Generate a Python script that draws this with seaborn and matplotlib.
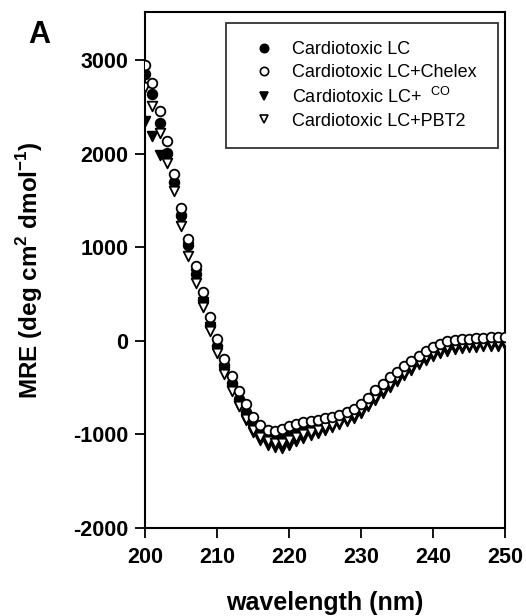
import numpy as np
import pandas as pd
import matplotlib
matplotlib.use('Agg')
import matplotlib.pyplot as plt
import seaborn as sns

sns.set_style('ticks')
plt.rcParams['font.family'] = ['Liberation Sans', 'DejaVu Sans']
plt.rcParams['axes.unicode_minus'] = False
plt.rcParams['mathtext.fontset'] = 'custom'
plt.rcParams['mathtext.rm'] = 'Liberation Sans'
plt.rcParams['mathtext.bf'] = 'Liberation Sans:bold'
plt.rcParams['text.color'] = 'black'
plt.rcParams['axes.labelcolor'] = 'black'
plt.rcParams['xtick.color'] = 'black'
plt.rcParams['ytick.color'] = 'black'
plt.rcParams['axes.edgecolor'] = 'black'

# ── データ（図から読み取り, 1 nm 刻み） ─────────────────────────
wavelength = list(range(200, 251))

lc = [2850, 2640, 2330, 2005, 1700, 1350, 1020, 720, 440, 170,
      -60, -260, -450, -620, -760, -880, -960, -1000, -1010, -990,
      -960, -940, -920, -905, -890, -870, -850, -830, -800, -760,
      -700, -630, -560, -490, -420, -360, -300, -240, -185, -135,
      -90, -55, -30, -15, -5, 0, 5, 10, 15, 15, 20]

chelex = [2950, 2760, 2460, 2135, 1780, 1425, 1090, 800, 520, 260,
          20, -190, -380, -540, -680, -810, -900, -950, -960, -940,
          -910, -890, -865, -855, -845, -830, -810, -790, -765, -730,
          -680, -610, -530, -460, -390, -330, -270, -210, -160, -110,
          -70, -30, -5, 10, 20, 25, 30, 35, 40, 40, 45]

cu = [2350, 2190, 1990, 1940, 1650, 1280, 1000, 710, 420, 150,
      -100, -330, -530, -700, -850, -970, -1060, -1110, -1140, -1150,
      -1110, -1070, -1040, -1010, -980, -950, -920, -890, -860, -820,
      -770, -700, -630, -560, -490, -430, -370, -310, -250, -200,
      -160, -130, -105, -90, -80, -70, -65, -60, -55, -50, -45]

pbt2 = [2710, 2510, 2225, 1905, 1600, 1225, 905, 620, 360, 110,
        -130, -350, -540, -700, -840, -950, -1030, -1070, -1090, -1090,
        -1060, -1030, -1000, -975, -950, -920, -895, -865, -835, -795,
        -740, -670, -600, -530, -460, -400, -340, -280, -225, -175,
        -130, -95, -70, -55, -45, -40, -35, -30, -25, -20, -15]

labels = ['Cardiotoxic LC', 'Cardiotoxic LC+Chelex',
          'Cardiotoxic LC+  $^{\\mathrm{CO}}$', 'Cardiotoxic LC+PBT2']

# marker, facecolor
styles = {
    labels[0]: ('o', 'black'),
    labels[1]: ('o', 'white'),
    labels[2]: ('v', 'black'),
    labels[3]: ('v', 'white'),
}

df = pd.DataFrame({'wavelength': wavelength * 4,
                   'MRE': lc + chelex + cu + pbt2,
                   'sample': sum([[l] * len(wavelength) for l in labels], [])})

fig = plt.figure(figsize=(5.26, 6.16), dpi=100)
ax = fig.add_axes([0.276, 0.143, 0.684, 0.838])

draw_order = [labels[0], labels[2], labels[3], labels[1]]
for lab in draw_order:
    m, fc = styles[lab]
    sub = df[df['sample'] == lab]
    sns.scatterplot(data=sub, x='wavelength', y='MRE', marker=m,
                    color=fc, edgecolor='black', linewidth=1.3,
                    s=48, ax=ax, zorder=3)

# 凡例は表示順で作る
handles = []
for lab in labels:
    m, fc = styles[lab]
    handles.append(plt.Line2D([], [], linestyle='', marker=m, markersize=6,
                              markerfacecolor=fc, markeredgecolor='black',
                              markeredgewidth=1.2, label=lab))
leg = ax.legend(handles=handles, loc='upper left',
                bbox_to_anchor=(0.225, 0.5, 0.755, 0.478), mode='expand',
                frameon=True, fancybox=False, edgecolor='black', fontsize=13,
                labelspacing=0.32, handletextpad=0.45, borderpad=1.0,
                handlelength=2.2, borderaxespad=0)
leg.get_frame().set_linewidth(1.3)

ax.set_xlim(200, 250)
ax.set_ylim(-2000, 3520)
ax.set_xticks(range(200, 251, 10))
ax.set_yticks(range(-2000, 3001, 1000))
for lbl in ax.get_xticklabels() + ax.get_yticklabels():
    lbl.set_fontweight('bold')
    lbl.set_fontsize(15.5)
ax.tick_params(direction='out', length=7, width=1.3)
ax.tick_params(axis='x', pad=7)
ax.tick_params(axis='y', pad=5)
for sp in ax.spines.values():
    sp.set_visible(True)
    sp.set_linewidth(1.5)

ax.set_xlabel('wavelength (nm)', fontsize=18, fontweight='bold', labelpad=16)
ax.set_ylabel('MRE (deg cm$^\\mathbf{2}$ dmol$^\\mathbf{-1}$)', fontsize=17.5,
              fontweight='bold', labelpad=20)

fig.text(0.053, 0.930, 'A', fontsize=22, fontweight='bold')

fig.savefig('out.png', dpi=100)
